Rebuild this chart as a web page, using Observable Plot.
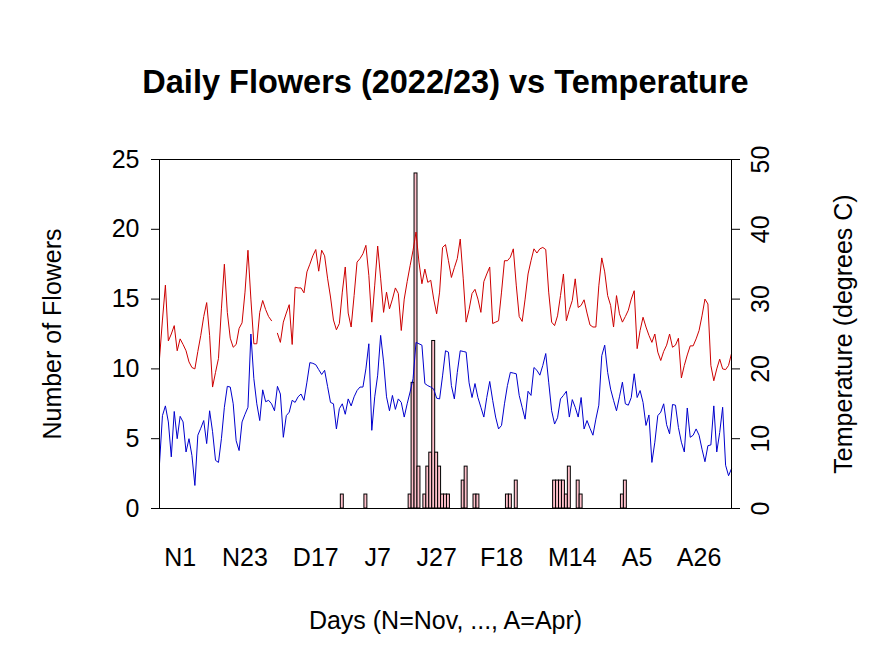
<!DOCTYPE html>
<html><head><meta charset="utf-8">
<script src="https://cdn.jsdelivr.net/npm/d3@7"></script>
<script src="https://cdn.jsdelivr.net/npm/@observablehq/plot@0.6"></script>
<style>
body{margin:0;background:#fff}
svg{font-family:"Liberation Sans",Arial,sans-serif}
</style>
</head><body><div id="chart"></div>
<script>
// Daily max / min temperature (degrees C), day 0 = 25 Oct 2022
const tmax = [21.5,27,32,24,25,26.2,22.6,24.3,23.5,22.6,
21,20.2,20,22.5,24.8,27.5,29.5,24.8,17.4,19.5,
21.5,28.6,35,28.1,24.4,23.1,23.5,25.8,26.6,31,
37,30,23.6,23.6,28.1,29.8,28.5,27.5,26.9,NaN,
25.1,23.8,26.7,28,29.2,23.5,31.7,31.6,31.6,30.9,
33.9,35,36.2,37.1,34,37,36.2,33,30.3,27,
25.6,26.5,31,34.6,28,26,30.5,35.3,35.8,36.5,
37.7,33.4,26.7,32,37.6,33,28.1,31,28.6,30,
31.6,30.8,25.5,30,32.5,34.8,37,39.6,35.3,32.2,
34.3,32.4,32.7,30,27.9,31,37.4,37.8,35.5,33.1,
34.5,35.8,38.6,33,26.7,28.5,30.8,31.4,30,28.1,
32.5,33.6,34.6,26.5,26.7,26.9,31,35.5,35.5,36,
37.2,32,27.5,26.8,30,33.6,35.5,37.2,36.6,37.2,
37.4,37.1,31,26.7,26.2,27.6,30.5,33.6,26.9,28.5,
29.8,32.9,28.8,29.1,29.9,28,26.3,26,26,31.9,
35.9,33.9,30.5,29.1,26,30.5,27.9,26.7,27.5,28.4,
30,31.2,22.9,25.5,27.4,26,24.8,23.8,25,22.4,
21.2,22.5,23.4,25,23.1,23.4,24.4,18.7,20.5,22,
23.3,23.3,24.3,25.5,27.6,30,29.3,20.5,18.3,20,
21.4,20,19.9,20.5,22.2];
const tmin = [6.4,13.3,14.7,12.4,7.4,13.9,10,13.2,12.4,8.1,
10,7.6,3.3,10.5,11.5,12.6,9.3,14,11,6.9,
6.6,10,14.5,17.5,17.4,15,9.7,8.3,12.4,13.5,
14.5,25,18.6,15,12.6,17,15.3,15.5,15,14,
17.5,16.4,10.2,13.3,13.8,15.5,15.2,16,16.4,15.5,
18.1,20.9,20.8,20.6,19.9,19.2,19.8,17.5,15.2,15,
11.4,14.3,15,13.5,15.7,14.7,16,16.9,17.4,17.4,
20,23.6,11.2,16,19.1,24.8,21,16,14,16.2,
14.2,15.7,15.2,13.1,15,16.7,18.6,23.8,23.6,23.4,
17.9,17.6,17.4,17.1,15.8,15.7,19,22.6,22.4,17.6,
15.7,19.5,22.6,22.5,22.4,18,15.9,17.9,15.9,14.5,
13.1,15.9,18.2,15.5,13.1,11.4,11.9,15,17.6,19.5,
19.4,19.3,16.2,14.5,12.8,16.8,16.2,20.2,19.8,19.1,
20.5,22.2,18.1,14,12.1,13,15.7,16.2,16.8,13.1,
15.6,14.5,13.1,15.9,11.4,12.6,11.5,10.5,12.8,14.8,
21.9,23.4,19.5,17.1,15.5,14,16,18.1,15,14.8,
15.9,19.3,15.9,16.9,15.2,11.9,13.4,6.6,9.5,13.3,
13.8,15,12,10.7,14.9,14.8,11.6,9.5,8.1,14.4,
10.2,10.5,11.4,10.5,8.5,6.7,9,9.1,14.7,8.1,
10.9,14.5,6.2,4.7,5.7];
// Days with flowers and their counts
const flowerDay   = [62,70,85,86,87,88,90,91,92,93,94,95,96,97,98,103,104,107,108,118,119,121,134,135,136,137,138,139,142,143,157,158];
const flowerCount = [1,1,1,9,24,3,1,3,4,12,4,3,1,1,1,2,3,1,1,1,1,2,2,2,2,2,1,3,2,1,1,2];
// Axis ticks
const dayTicks  = [7,29,53,74,94,116,140,162,183];
const dayLabels = ["N1","N23","D17","J7","J27","F18","M14","A5","A26"];
const flowerTicks = [0,5,10,15,20,25];
const tempTicks = [0,10,20,30,40,50];

const temps = tmax.map((v, i) => ({day: i, tmax: v, tmin: tmin[i]}));
const flowers = flowerDay.map((d, k) => ({day: d, count: flowerCount[k]}));
const FONT = 25;

const chart = Plot.plot({
  width: 891, height: 668,
  marginLeft: 159, marginRight: 160, marginTop: 159, marginBottom: 160,
  x: {domain: [0, tmax.length - 1]},
  y: {domain: [0, 25]},
  style: {background: "white", fontFamily: "Liberation Sans, Arial, sans-serif", fontSize: FONT + "px", color: "black"},
  marks: [
    Plot.rectY(flowers, {x1: d => d.day - 0.5, x2: d => d.day + 0.5, y: "count", fill: "pink", stroke: "black", strokeWidth: 1}),
    Plot.lineY(temps, {x: "day", y: d => d.tmax / 2, stroke: "#CD0000", strokeWidth: 1}),
    Plot.lineY(temps, {x: "day", y: d => d.tmin / 2, stroke: "#0000CD", strokeWidth: 1}),
    Plot.frame({stroke: "black"}),
    Plot.axisY({anchor: "left", ticks: flowerTicks, tickSize: 8, tickPadding: 12, label: null, fontSize: FONT}),
    Plot.axisY({anchor: "right", ticks: tempTicks.map(t => t / 2), tickSize: 8, tickPadding: 12,
      tickFormat: d => String(d * 2), tickRotate: -90, textAnchor: "middle", lineAnchor: "top", label: null, fontSize: FONT}),
    Plot.axisX({ticks: dayTicks, tickFormat: d => dayLabels[dayTicks.indexOf(d)], tickSize: 0, tickPadding: 40, label: null, fontSize: FONT}),
    Plot.text(["Daily Flowers (2022/23) vs Temperature"], {text: d => d, frameAnchor: "top", dy: -77, lineAnchor: "middle", textAnchor: "middle", fontWeight: "bold", fontSize: 32.5}),
    Plot.text(["Number of Flowers"], {text: d => d, frameAnchor: "left", dx: -107, rotate: -90, textAnchor: "middle", lineAnchor: "middle", fontSize: FONT}),
    Plot.text(["Temperature (degrees C)"], {text: d => d, frameAnchor: "right", dx: 112, rotate: -90, textAnchor: "middle", lineAnchor: "middle", fontSize: FONT}),
    Plot.text(["Days (N=Nov, ..., A=Apr)"], {text: d => d, frameAnchor: "bottom", dy: 112, textAnchor: "middle", lineAnchor: "middle", fontSize: FONT})
  ]
});
document.getElementById("chart").appendChild(chart);
</script>
</body></html>
